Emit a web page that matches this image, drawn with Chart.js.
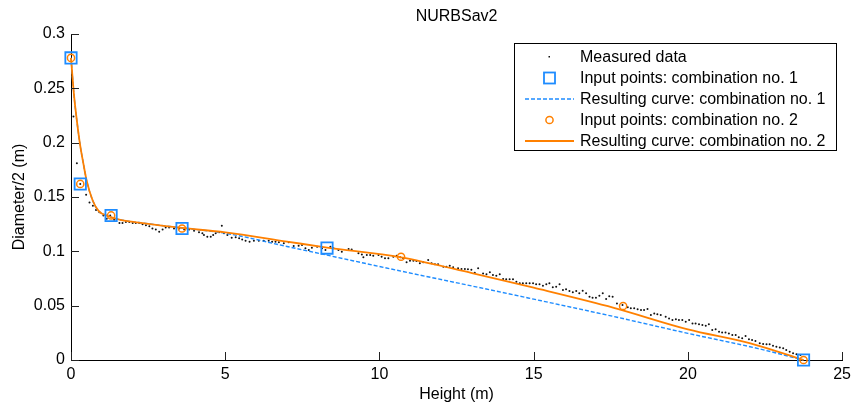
<!DOCTYPE html>
<html>
<head>
<meta charset="utf-8">
<script src="https://cdn.jsdelivr.net/npm/chart.js@4/dist/chart.umd.min.js"></script>
<style>
  html, body { margin: 0; padding: 0; background: #fff; }
  #wrap { width: 856px; height: 406px; }
</style>
</head>
<body>
<div id="wrap"><canvas id="nurbs" width="856" height="406"></canvas></div>
<script>
(function () {
    'use strict';

    const FONT = "'Liberation Sans', Arial, Helvetica, sans-serif";
    const FS = 16;
    const BLUE = '#1e8cff';
    const ORANGE = '#ff8000';

    // ====== Axis ticks ======
    const xTicks = [0, 5, 10, 15, 20, 25];
    const xTickLabels = ['0', '5', '10', '15', '20', '25'];
    const yTicks = [0, 0.05, 0.1, 0.15, 0.2, 0.25, 0.3];
    const yTickLabels = ['0', '0.05', '0.1', '0.15', '0.2', '0.25', '0.3'];

    // ====== Measured data (height m, radius m) ======
    const measuredH = [
        0.08, 0.19, 0.30, 0.49, 0.60, 0.71, 0.81, 0.92, 1.05, 1.16, 1.27, 1.40, 1.57, 1.67, 1.78, 1.89,
        2.00, 2.10, 2.21, 2.32, 2.43, 2.54, 2.64, 2.75, 2.86, 2.97, 3.07, 3.18, 3.34, 3.51, 3.67, 3.83,
        3.99, 4.15, 4.26, 4.31, 4.42, 4.53, 4.61, 4.69, 4.80, 4.89, 4.96, 5.07, 5.21, 5.34, 5.45, 5.55,
        5.66, 5.79, 5.93, 6.09, 6.25, 6.41, 6.52, 6.63, 6.74, 6.90, 7.06, 7.22, 7.38, 7.49, 7.60, 7.71,
        7.81, 7.98, 8.14, 8.25, 8.41, 8.51, 8.67, 8.78, 9.00, 9.10, 9.32, 9.43, 9.48, 9.59, 9.70, 9.80,
        9.97, 10.07, 10.18, 10.29, 10.45, 10.56, 10.67, 10.77, 10.88, 10.99, 11.10, 11.20, 11.31, 11.42, 11.58, 11.69,
        11.80, 11.90, 12.07, 12.17, 12.28, 12.39, 12.55, 12.66, 12.77, 12.87, 12.98, 13.09, 13.20, 13.36, 13.47, 13.58,
        13.68, 13.79, 13.90, 14.01, 14.11, 14.22, 14.33, 14.44, 14.55, 14.65, 14.76, 14.87, 14.98, 15.08, 15.19, 15.30,
        15.41, 15.51, 15.62, 15.73, 15.84, 15.95, 16.05, 16.16, 16.27, 16.38, 16.48, 16.59, 16.70, 16.81, 16.91, 17.02,
        17.13, 17.24, 17.35, 17.45, 17.56, 17.70, 17.88, 18.05, 18.15, 18.26, 18.37, 18.48, 18.58, 18.69, 18.80, 18.91,
        19.01, 19.12, 19.28, 19.39, 19.50, 19.61, 19.71, 19.82, 19.93, 20.04, 20.15, 20.25, 20.36, 20.47, 20.58, 20.68,
        20.79, 20.90, 21.01, 21.11, 21.22, 21.33, 21.44, 21.55, 21.65, 21.76, 21.87, 21.98, 22.08, 22.19, 22.33, 22.44,
        22.55, 22.65, 22.76, 22.87, 22.98, 23.09, 23.19, 23.30, 23.41, 23.52, 23.65
    ];
    const measuredR = [
        0.224, 0.181, 0.162, 0.152, 0.145, 0.142, 0.138, 0.136, 0.133, 0.130, 0.133, 0.129, 0.126, 0.126, 0.127, 0.127,
        0.126, 0.126, 0.126, 0.125, 0.124, 0.123, 0.121, 0.120, 0.118, 0.120, 0.122, 0.122, 0.121, 0.121, 0.120, 0.120,
        0.119, 0.1175, 0.1166, 0.115, 0.1135, 0.1135, 0.115, 0.1166, 0.1175, 0.1236, 0.1166, 0.115, 0.1126, 0.1129, 0.112, 0.111,
        0.1098, 0.1089, 0.1098, 0.1098, 0.1098, 0.1098, 0.1089, 0.1089, 0.1083, 0.1074, 0.1083, 0.1049, 0.1052, 0.1058, 0.1028, 0.1012,
        0.1034, 0.1043, 0.1028, 0.1012, 0.1043, 0.1028, 0.1012, 0.0997, 0.1021, 0.1018, 0.0982, 0.0972, 0.0945, 0.0966, 0.0966, 0.0960,
        0.0966, 0.0951, 0.0936, 0.0936, 0.0951, 0.0960, 0.0945, 0.0936, 0.0899, 0.0914, 0.0914, 0.0911, 0.0890, 0.0899, 0.0920, 0.0890,
        0.0880, 0.0880, 0.0859, 0.0859, 0.0868, 0.0853, 0.0844, 0.0838, 0.0838, 0.0834, 0.0830, 0.0804, 0.0844, 0.0797, 0.0788, 0.0807,
        0.0782, 0.0776, 0.0788, 0.0745, 0.0742, 0.0742, 0.0742, 0.0721, 0.0706, 0.0706, 0.0706, 0.0706, 0.0706, 0.0696, 0.0696, 0.0684,
        0.0696, 0.0706, 0.0669, 0.0675, 0.0696, 0.0644, 0.0650, 0.0635, 0.0623, 0.0635, 0.0614, 0.0638, 0.0614, 0.0583, 0.0574, 0.0574,
        0.0592, 0.0614, 0.0561, 0.0586, 0.0583, 0.0521, 0.0506, 0.0485, 0.0476, 0.0476, 0.0466, 0.0460, 0.0460, 0.0469, 0.0414, 0.0429,
        0.0420, 0.0414, 0.0399, 0.0383, 0.0368, 0.0374, 0.0368, 0.0368, 0.0353, 0.0368, 0.0337, 0.0337, 0.0328, 0.0322, 0.0316, 0.0328,
        0.0276, 0.0282, 0.0261, 0.0252, 0.0252, 0.0245, 0.0230, 0.0230, 0.0209, 0.0200, 0.0221, 0.0190, 0.0184, 0.0175, 0.0153, 0.0147,
        0.0144, 0.0144, 0.0132, 0.0123, 0.0114, 0.0107, 0.0092, 0.0077, 0.0061, 0.0052, 0.0046
    ];

    // ====== Combination no. 1 ======
    const inputH1 = [0, 0.3, 1.3, 3.6, 8.3, 23.75];
    const inputR1 = [0.278, 0.162, 0.133, 0.121, 0.103, 0];
    const curveH1 = [0, 0.1, 0.2, 0.3, 0.4, 0.5, 0.7, 0.9, 1.2, 1.6, 2.2, 3.0, 3.6, 5, 7, 8.3, 10.7, 13.2, 15, 17.6, 20, 22.25, 23.75];
    const curveR1 = [0.278, 0.243, 0.218, 0.197, 0.181, 0.166, 0.147, 0.137, 0.1325, 0.129, 0.1265, 0.1235, 0.1215, 0.1167, 0.1045, 0.0965, 0.0818, 0.0669, 0.056, 0.040, 0.0245, 0.0107, 0];

    // ====== Combination no. 2 ======
    const inputH2 = [0, 0.3, 1.3, 3.6, 10.7, 17.9, 23.75];
    const inputR2 = [0.278, 0.162, 0.133, 0.121, 0.095, 0.0497, 0];
    const curveH2 = [0, 0.1, 0.2, 0.3, 0.4, 0.5, 0.7, 0.9, 1.2, 1.6, 2.2, 3.0, 3.6, 5, 7, 8.3, 10.7, 13, 15, 17.6, 20, 22, 23.75];
    const curveR2 = [0.278, 0.243, 0.218, 0.197, 0.181, 0.166, 0.147, 0.137, 0.1325, 0.129, 0.1265, 0.1235, 0.1215, 0.1175, 0.109, 0.1035, 0.0945, 0.080, 0.0665, 0.048, 0.0282, 0.0155, 0];

    const pts = (xs, ys) => xs.map((x, i) => ({ x: x, y: ys[i] }));

    // ====== Inward ticks, title and boxed legend ======
    const axesDecor = {
        id: 'axesDecor',
        afterDraw(chart) {
            const ctx = chart.ctx;
            const xs = chart.scales.x, ys = chart.scales.y;
            const area = chart.chartArea;
            ctx.save();
            ctx.strokeStyle = '#222';
            ctx.lineWidth = 1;
            ctx.beginPath();
            xTicks.forEach(v => {
                const px = Math.round(xs.getPixelForValue(v)) + 0.5;
                ctx.moveTo(px, area.bottom);
                ctx.lineTo(px, area.bottom - 8);
            });
            yTicks.forEach(v => {
                const py = Math.round(ys.getPixelForValue(v)) + 0.5;
                ctx.moveTo(area.left, py);
                ctx.lineTo(area.left + 8, py);
            });
            ctx.stroke();

            // title over the plot area
            ctx.fillStyle = '#000';
            ctx.font = FS + 'px ' + FONT;
            ctx.textAlign = 'center';
            ctx.textBaseline = 'middle';
            ctx.fillText('NURBSav2', (area.left + area.right) / 2, 17);

            // legend box
            const bx = 514.5, by = 43.5, bw = 322, bh = 107;
            ctx.fillStyle = '#fff';
            ctx.fillRect(bx, by, bw, bh);
            ctx.strokeStyle = '#000';
            ctx.strokeRect(bx, by, bw, bh);

            const entries = chart.data.datasets.slice().sort((a, b) => a.legendRank - b.legendRank);
            ctx.textAlign = 'left';
            entries.forEach((ds, k) => {
                const cy = 57 + k * 21;
                const cx = 549.5;
                ctx.save();
                if (ds.kind === 'line') {
                    ctx.strokeStyle = ds.borderColor;
                    ctx.lineWidth = ds.borderWidth;
                    ctx.setLineDash(ds.borderDash || []);
                    ctx.beginPath();
                    ctx.moveTo(525, cy);
                    ctx.lineTo(574, cy);
                    ctx.stroke();
                } else if (ds.pointStyle === 'rect') {
                    ctx.strokeStyle = ds.pointBorderColor;
                    ctx.lineWidth = ds.pointBorderWidth;
                    ctx.strokeRect(cx - 5.5, cy - 5.5, 11, 11);
                } else if (ds.kind === 'dots') {
                    ctx.fillStyle = ds.pointBackgroundColor;
                    ctx.fillRect(cx - 1, cy - 1, 1.5, 1.5);
                } else {
                    ctx.strokeStyle = ds.pointBorderColor;
                    ctx.lineWidth = ds.pointBorderWidth;
                    ctx.beginPath();
                    ctx.arc(cx, cy, ds.pointRadius, 0, Math.PI * 2);
                    ctx.stroke();
                }
                ctx.restore();
                ctx.fillStyle = '#000';
                ctx.fillText(ds.label, 580, cy + 1);
            });
            ctx.restore();
        }
    };

    const el = document.getElementById('nurbs');
    new Chart(el, {
        type: 'scatter',
        data: {
            datasets: [
                {
                    label: 'Measured data', kind: 'dots', legendRank: 0, order: 5,
                    data: pts(measuredH, measuredR),
                    pointRadius: 1, pointBorderWidth: 0,
                    pointBackgroundColor: '#111', pointBorderColor: '#111',
                    showLine: false, clip: false
                },
                {
                    label: 'Input points: combination no. 1', kind: 'marker', legendRank: 1, order: 2,
                    data: pts(inputH1, inputR1),
                    pointStyle: 'rect', pointRadius: 8, pointBorderWidth: 1.8,
                    pointBorderColor: BLUE, pointBackgroundColor: 'rgba(0,0,0,0)',
                    showLine: false, clip: false
                },
                {
                    label: 'Resulting curve: combination no. 1', kind: 'line', legendRank: 2, order: 4,
                    data: pts(curveH1, curveR1),
                    showLine: true, pointRadius: 0, borderColor: BLUE, borderWidth: 1.4,
                    borderDash: [4, 2], cubicInterpolationMode: 'monotone', clip: false
                },
                {
                    label: 'Input points: combination no. 2', kind: 'marker', legendRank: 3, order: 1,
                    data: pts(inputH2, inputR2),
                    pointStyle: 'circle', pointRadius: 3.6, pointBorderWidth: 1.5,
                    pointBorderColor: ORANGE, pointBackgroundColor: 'rgba(0,0,0,0)',
                    showLine: false, clip: false
                },
                {
                    label: 'Resulting curve: combination no. 2', kind: 'line', legendRank: 4, order: 3,
                    data: pts(curveH2, curveR2),
                    showLine: true, pointRadius: 0, borderColor: ORANGE, borderWidth: 1.8,
                    cubicInterpolationMode: 'monotone', clip: false
                }
            ]
        },
        options: {
            responsive: false,
            animation: false,
            events: [],
            layout: { padding: { top: 34, right: 11, bottom: 0, left: 0 } },
            scales: {
                x: {
                    type: 'linear', min: 0, max: 25,
                    afterFit: (s) => { s.height = 46; },
                    afterBuildTicks: (s) => { s.ticks = xTicks.map(v => ({ value: v })); },
                    grid: { display: false, drawTicks: false },
                    border: { display: true, color: '#000', width: 1 },
                    ticks: {
                        padding: 5, color: '#000', maxRotation: 0,
                        font: { family: FONT, size: FS },
                        callback: (v) => xTickLabels[xTicks.indexOf(v)]
                    },
                    title: {
                        display: true, text: 'Height (m)', color: '#000',
                        font: { family: FONT, size: FS }, padding: { top: 0, bottom: 2 }
                    }
                },
                y: {
                    type: 'linear', min: 0, max: 0.3,
                    afterFit: (s) => { s.width = 71; },
                    afterBuildTicks: (s) => { s.ticks = yTicks.map(v => ({ value: v })); },
                    grid: { display: false, drawTicks: false },
                    border: { display: true, color: '#000', width: 1 },
                    ticks: {
                        padding: 6, color: '#000',
                        font: { family: FONT, size: FS },
                        callback: (v) => yTickLabels[yTicks.indexOf(v)]
                    },
                    title: {
                        display: true, text: 'Diameter/2 (m)', color: '#000',
                        font: { family: FONT, size: FS }, padding: { top: 10, bottom: 0 }
                    }
                }
            },
            plugins: {
                legend: { display: false },
                title: { display: false },
                tooltip: { enabled: false }
            }
        },
        plugins: [axesDecor]
    });
})();
</script>
</body>
</html>
